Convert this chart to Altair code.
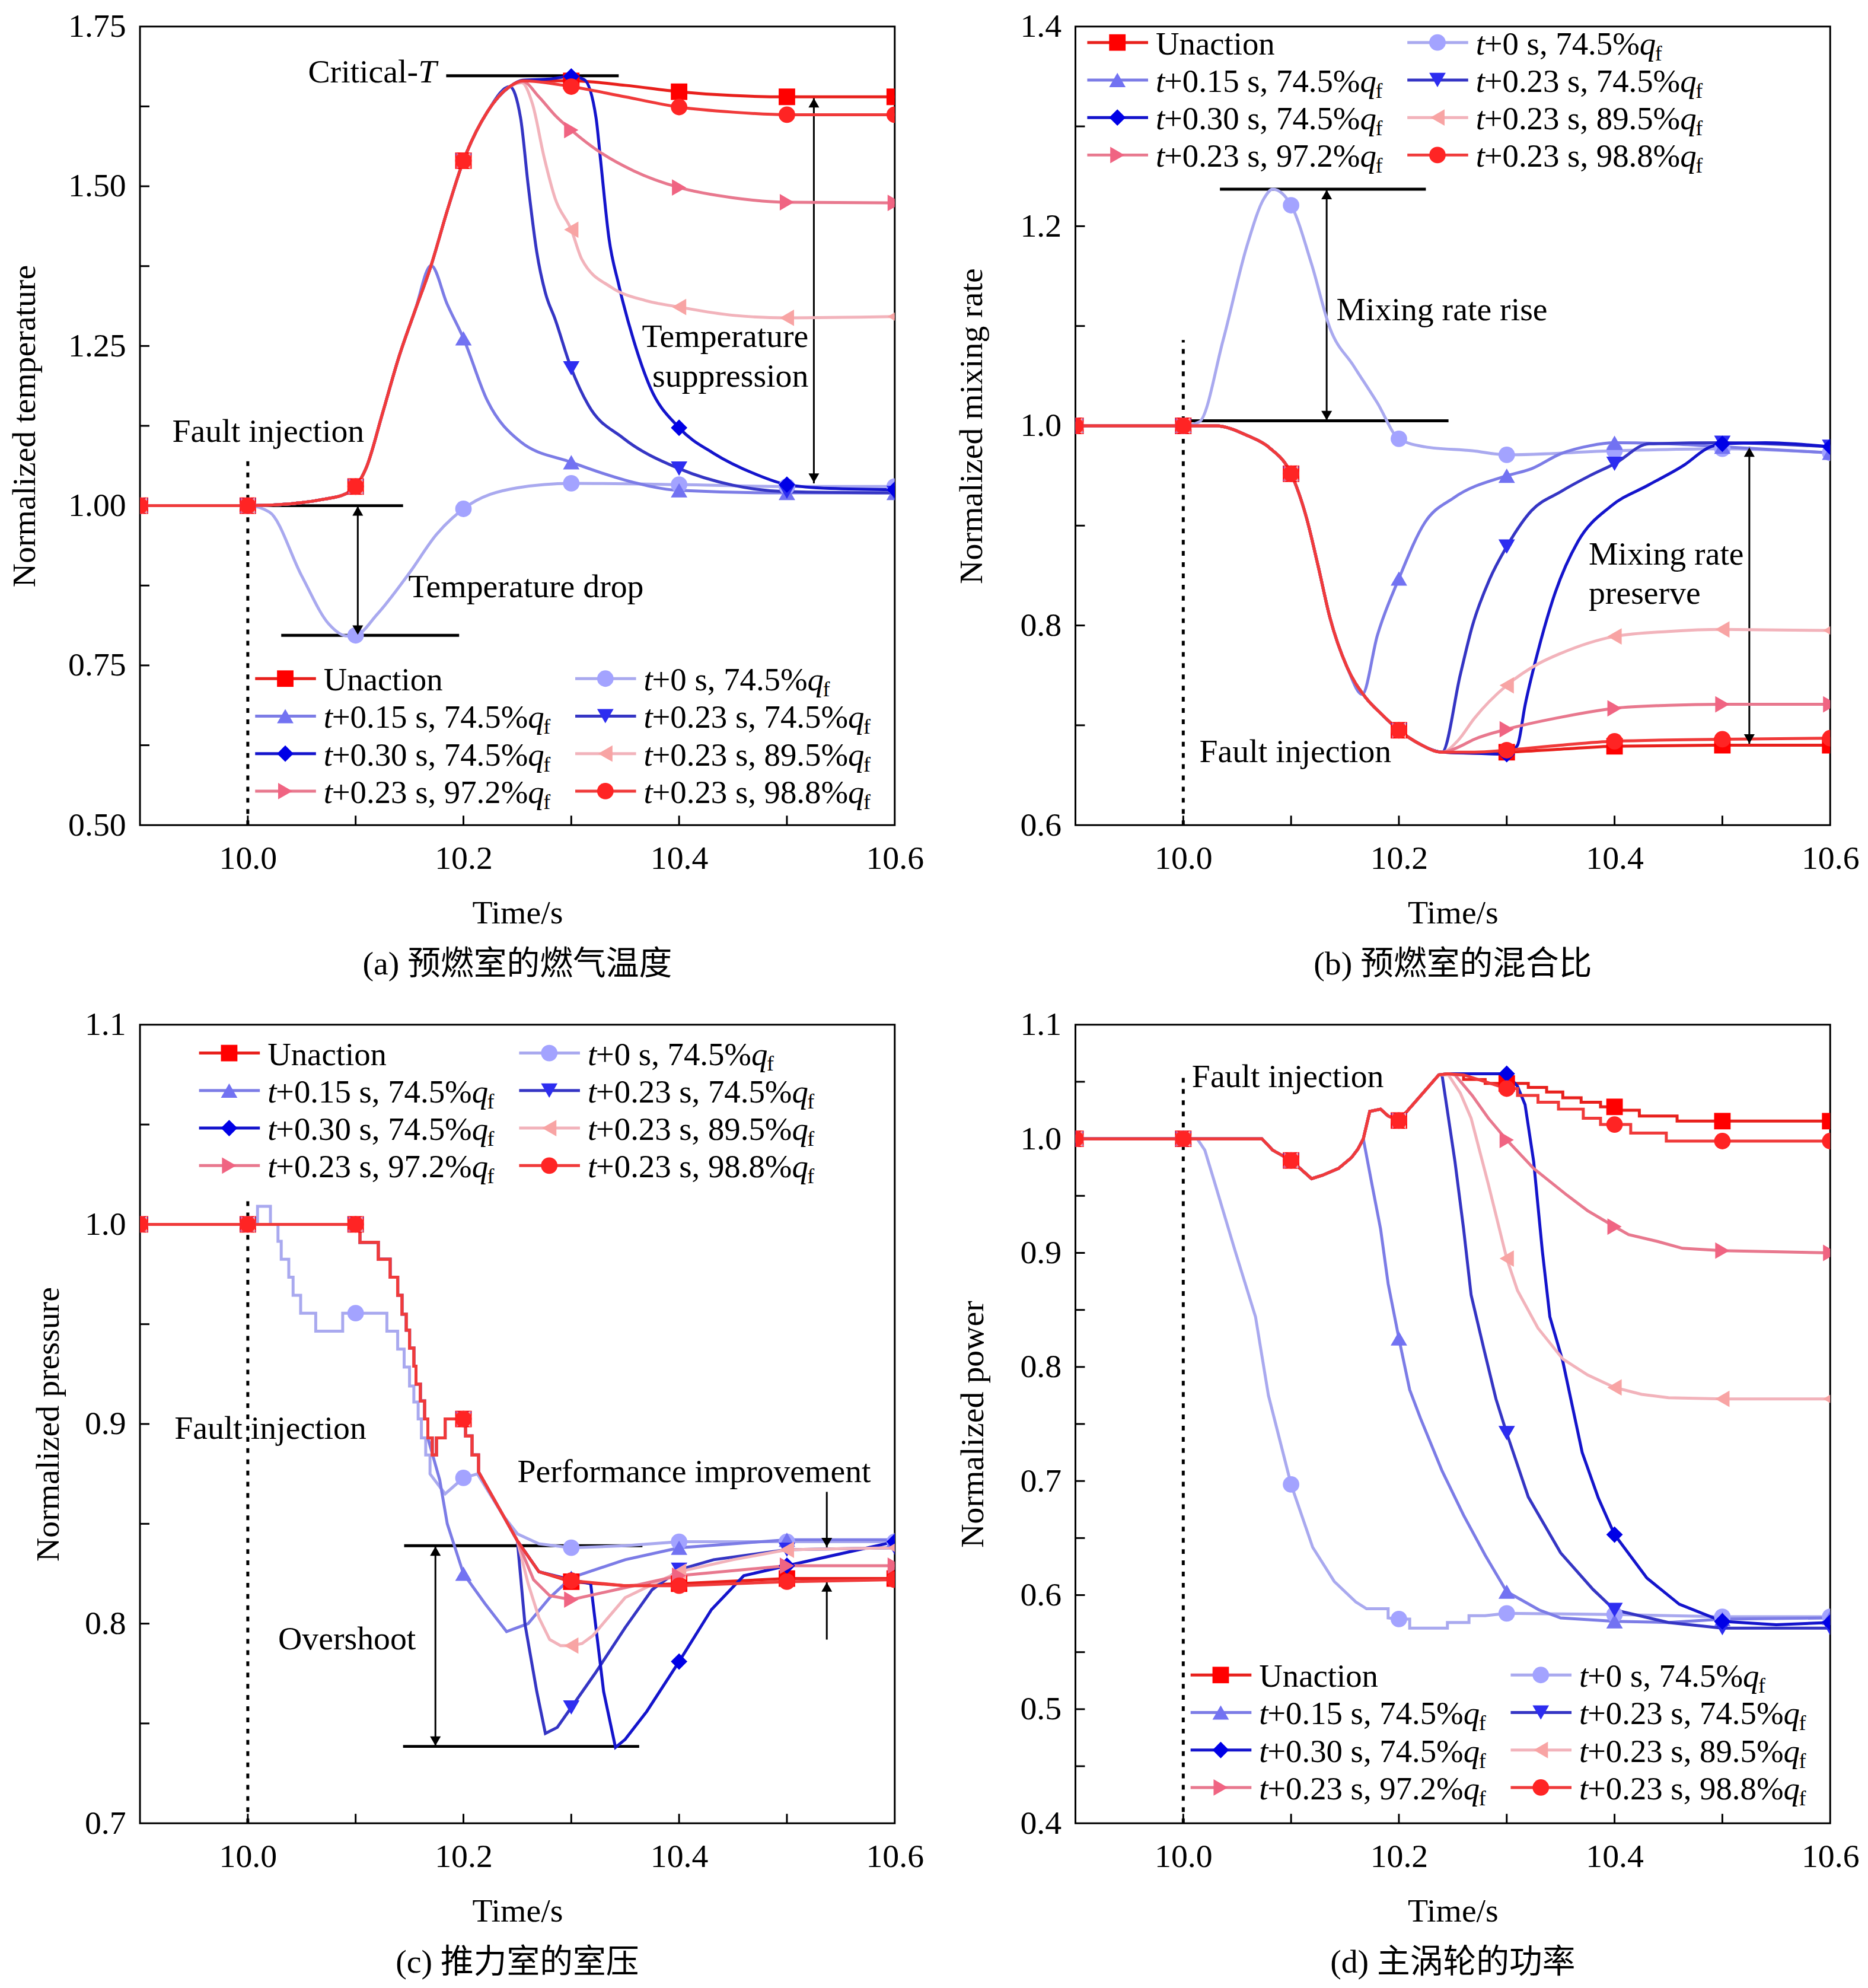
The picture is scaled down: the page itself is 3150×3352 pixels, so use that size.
import altair as alt
import pandas as pd

FONT = "Liberation Serif"
CJK_FONT = "Liberation Serif, Noto Sans CJK SC"
W = 1278
H = 1352

# series in legend order (row by row, two columns)
SERIES = ["unaction", "t0", "t015", "t023", "t030", "q895", "q972", "q988"]
LINE_COLORS = ["#e8201c", "#a9a9ef", "#7c7ce6", "#3535c4", "#1414cc", "#f2b3bb", "#e8788e", "#f03a3a"]
MARK_COLORS = ["#ff0000", "#a3a3ff", "#7272f2", "#2d2df0", "#0000e6", "#f8a4a4", "#f06482", "#ff2424"]
SHAPES = ["square", "circle", "triangle-up", "triangle-down", "diamond",
          "triangle-left", "triangle-right", "circle"]
LEGEND_MID = ["Unaction", "+0 s, 74.5%", "+0.15 s, 74.5%", "+0.23 s, 74.5%", "+0.30 s, 74.5%",
              "+0.23 s, 89.5%", "+0.23 s, 97.2%", "+0.23 s, 98.8%"]

X_LABELS = [10.0, 10.2, 10.4, 10.6]
X_TICKS = [10.0, 10.1, 10.2, 10.3, 10.4, 10.5]


def upto(points, t_end):
    return [p for p in points if p[0] <= t_end + 1e-9]


# ---------------- (a) temperature ----------------
a_rise = [(9.9, 1.0), (10.0, 1.0), (10.04, 1.003), (10.07, 1.01), (10.09, 1.018), (10.1, 1.03),
          (10.11, 1.06), (10.125, 1.145), (10.14, 1.232), (10.155, 1.305), (10.17, 1.376),
          (10.185, 1.462), (10.2, 1.54), (10.222, 1.616), (10.243, 1.656)]
a_unaction = a_rise + [(10.255, 1.665), (10.3, 1.665), (10.35, 1.658), (10.4, 1.648), (10.45, 1.642),
                       (10.5, 1.64), (10.6, 1.64)]
a_t0 = [(9.9, 1.0), (10.0, 1.0), (10.02, 0.99), (10.05, 0.89), (10.075, 0.815), (10.092, 0.796),
        (10.1, 0.797), (10.12, 0.83), (10.15, 0.895), (10.175, 0.955), (10.2, 0.995), (10.25, 1.028),
        (10.3, 1.035), (10.4, 1.033), (10.5, 1.03), (10.6, 1.03)]
a_t015 = upto(a_rise, 10.17) + [(10.185, 1.315), (10.2, 1.262), (10.222, 1.165), (10.253, 1.10),
                                (10.3, 1.068), (10.35, 1.04), (10.4, 1.024), (10.5, 1.02), (10.6, 1.02)]
a_t023 = a_rise + [(10.253, 1.607), (10.26, 1.502), (10.268, 1.397), (10.276, 1.333), (10.285, 1.292),
                   (10.3, 1.215), (10.316, 1.157), (10.348, 1.106), (10.4, 1.058), (10.45, 1.032),
                   (10.5, 1.022), (10.6, 1.02)]
a_t030 = a_rise + [(10.255, 1.666), (10.28, 1.668), (10.3, 1.672), (10.312, 1.667), (10.323, 1.607),
                   (10.327, 1.544), (10.335, 1.418), (10.344, 1.346), (10.358, 1.258), (10.373, 1.186),
                   (10.4, 1.122), (10.432, 1.082), (10.47, 1.05), (10.5, 1.033), (10.54, 1.027), (10.6, 1.025)]
a_q895 = a_rise + [(10.254, 1.662), (10.264, 1.629), (10.275, 1.544), (10.285, 1.481), (10.3, 1.432),
                   (10.31, 1.385), (10.337, 1.342), (10.369, 1.321), (10.4, 1.311), (10.45, 1.298),
                   (10.5, 1.294), (10.6, 1.296)]
a_q972 = a_rise + [(10.255, 1.664), (10.27, 1.64), (10.285, 1.611), (10.3, 1.588), (10.327, 1.553),
                   (10.358, 1.524), (10.4, 1.498), (10.45, 1.482), (10.5, 1.475), (10.6, 1.474)]
a_q988 = a_rise + [(10.255, 1.665), (10.3, 1.656), (10.35, 1.64), (10.4, 1.624), (10.45, 1.616),
                   (10.5, 1.612), (10.6, 1.612)]

# ---------------- (b) mixing rate ----------------
b_fall = [(9.9, 1.0), (10.0, 1.0), (10.03, 1.0), (10.06, 0.99), (10.08, 0.978), (10.1, 0.952),
          (10.114, 0.909), (10.125, 0.86), (10.136, 0.808), (10.152, 0.758), (10.169, 0.728),
          (10.185, 0.71), (10.2, 0.695), (10.218, 0.682), (10.24, 0.673)]
b_unaction = b_fall + [(10.27, 0.672), (10.3, 0.673), (10.35, 0.676), (10.4, 0.679), (10.5, 0.68), (10.6, 0.68)]
b_t0 = [(9.9, 1.0), (10.0, 1.0), (10.015, 1.004), (10.037, 1.086), (10.059, 1.18), (10.075, 1.228),
        (10.083, 1.237), (10.1, 1.221), (10.119, 1.162), (10.136, 1.098), (10.158, 1.06), (10.18, 1.023),
        (10.2, 0.987), (10.224, 0.979), (10.268, 0.975), (10.3, 0.971), (10.4, 0.975), (10.5, 0.977),
        (10.6, 0.973)]
b_t015 = upto(b_fall, 10.152) + [(10.166, 0.731), (10.18, 0.79), (10.2, 0.847), (10.224, 0.903),
                                 (10.251, 0.928), (10.3, 0.95), (10.323, 0.957), (10.35, 0.972),
                                 (10.377, 0.98), (10.4, 0.983), (10.45, 0.982), (10.5, 0.979), (10.6, 0.973)]
b_t023 = b_fall + [(10.257, 0.751), (10.268, 0.799), (10.284, 0.846), (10.3, 0.879), (10.323, 0.915),
                   (10.35, 0.934), (10.377, 0.95), (10.4, 0.962), (10.432, 0.982), (10.5, 0.983), (10.6, 0.979)]
b_t030 = b_fall + [(10.27, 0.672), (10.3, 0.671), (10.31, 0.68), (10.317, 0.72), (10.328, 0.77),
                   (10.345, 0.833), (10.366, 0.884), (10.396, 0.919), (10.432, 0.941), (10.465, 0.961),
                   (10.487, 0.978), (10.5, 0.982), (10.54, 0.983), (10.6, 0.979)]
b_q895 = b_fall + [(10.255, 0.685), (10.27, 0.707), (10.3, 0.74), (10.33, 0.762), (10.35, 0.772),
                   (10.4, 0.789), (10.45, 0.794), (10.5, 0.796), (10.6, 0.795)]
b_q972 = b_fall + [(10.255, 0.678), (10.27, 0.686), (10.3, 0.696), (10.35, 0.708), (10.4, 0.717),
                   (10.45, 0.72), (10.5, 0.721), (10.6, 0.721)]
b_q988 = b_fall + [(10.27, 0.673), (10.3, 0.675), (10.35, 0.68), (10.4, 0.684), (10.5, 0.686), (10.6, 0.687)]

# ---------------- (c) chamber pressure ----------------
c_pre = [(9.9, 1.0), (10.0, 1.0), (10.1, 1.0), (10.104, 1.0), (10.104, 0.991), (10.121, 0.991),
         (10.121, 0.9825), (10.132, 0.9825), (10.132, 0.9735), (10.139, 0.9735), (10.139, 0.9645),
         (10.143, 0.9645), (10.143, 0.955), (10.147, 0.955), (10.147, 0.947), (10.15, 0.947),
         (10.15, 0.938), (10.154, 0.938), (10.154, 0.929), (10.156, 0.929), (10.156, 0.92),
         (10.16, 0.92), (10.16, 0.9115), (10.164, 0.9115), (10.164, 0.9025), (10.167, 0.9025),
         (10.167, 0.893), (10.171, 0.893), (10.171, 0.8845), (10.175, 0.8845), (10.175, 0.893),
         (10.183, 0.893), (10.183, 0.9025), (10.2, 0.9025), (10.202, 0.9025), (10.202, 0.894),
         (10.208, 0.894), (10.208, 0.8845), (10.214, 0.8845), (10.214, 0.876), (10.237, 0.854),
         (10.25, 0.8415)]
c_unaction = c_pre + [(10.27, 0.826), (10.3, 0.821), (10.35, 0.819), (10.4, 0.82), (10.5, 0.8226), (10.6, 0.8226)]
c_t0 = [(9.9, 1.0), (10.0, 1.0), (10.009, 1.0), (10.009, 1.009), (10.021, 1.009), (10.021, 1.0),
        (10.028, 1.0), (10.028, 0.9915), (10.031, 0.9915), (10.031, 0.9825), (10.038, 0.9825),
        (10.038, 0.9735), (10.042, 0.9735), (10.042, 0.9645), (10.049, 0.9645), (10.049, 0.9555),
        (10.063, 0.9555), (10.063, 0.9465), (10.088, 0.9465), (10.088, 0.9555), (10.1, 0.9555),
        (10.129, 0.9555), (10.129, 0.9465), (10.139, 0.9465), (10.139, 0.9375), (10.145, 0.9375),
        (10.145, 0.9285), (10.15, 0.9285), (10.15, 0.919), (10.154, 0.919), (10.154, 0.911),
        (10.158, 0.911), (10.158, 0.9025), (10.161, 0.9025), (10.161, 0.893), (10.165, 0.893),
        (10.165, 0.8845), (10.169, 0.8845), (10.169, 0.875), (10.183, 0.865), (10.2, 0.873),
        (10.213, 0.875), (10.237, 0.854), (10.25, 0.845), (10.27, 0.84), (10.3, 0.838),
        (10.35, 0.839), (10.4, 0.841), (10.5, 0.841), (10.6, 0.841)]
c_t015 = upto(c_pre, 10.167) + [(10.178, 0.872), (10.185, 0.85), (10.2, 0.825), (10.22, 0.81),
                                (10.24, 0.796), (10.26, 0.8), (10.28, 0.813), (10.3, 0.823), (10.35, 0.832),
                                (10.4, 0.838), (10.45, 0.84), (10.5, 0.842), (10.6, 0.842)]
c_t023 = c_pre + [(10.257, 0.8), (10.268, 0.766), (10.276, 0.745), (10.287, 0.748), (10.3, 0.758),
                  (10.322, 0.775), (10.35, 0.798), (10.375, 0.817), (10.4, 0.827), (10.432, 0.832),
                  (10.5, 0.837), (10.6, 0.838)]
c_t030 = c_pre + [(10.27, 0.826), (10.3, 0.822), (10.318, 0.82), (10.33, 0.766), (10.341, 0.738),
                  (10.35, 0.742), (10.37, 0.756), (10.4, 0.781), (10.43, 0.807), (10.46, 0.824),
                  (10.5, 0.829), (10.55, 0.835), (10.6, 0.841)]
c_q895 = c_pre + [(10.26, 0.82), (10.27, 0.803), (10.28, 0.792), (10.29, 0.789), (10.3, 0.789),
                  (10.31, 0.79), (10.32, 0.794), (10.35, 0.813), (10.4, 0.826), (10.45, 0.832),
                  (10.5, 0.837), (10.6, 0.838)]
c_q972 = c_pre + [(10.265, 0.822), (10.28, 0.814), (10.3, 0.812), (10.35, 0.818), (10.4, 0.824),
                  (10.5, 0.829), (10.6, 0.829)]
c_q988 = c_pre + [(10.27, 0.826), (10.3, 0.8215), (10.35, 0.819), (10.4, 0.819), (10.5, 0.821), (10.6, 0.822)]

# ---------------- (d) turbine power ----------------
d_pre = [(9.9, 1.0), (10.0, 1.0), (10.073, 1.0), (10.083, 0.99), (10.1, 0.981), (10.119, 0.965),
         (10.129, 0.968), (10.144, 0.974), (10.156, 0.9835), (10.162, 0.991), (10.167, 1.0),
         (10.173, 1.024), (10.183, 1.026), (10.19, 1.02), (10.2, 1.016), (10.213, 1.03),
         (10.237, 1.056), (10.245, 1.057)]
d_unaction = d_pre + [(10.26, 1.056), (10.26, 1.052), (10.28, 1.052), (10.28, 1.0485), (10.3, 1.0485),
                      (10.32, 1.0485), (10.32, 1.045), (10.337, 1.045), (10.337, 1.041), (10.352, 1.041),
                      (10.352, 1.036), (10.369, 1.036), (10.369, 1.032), (10.387, 1.032), (10.387, 1.028),
                      (10.4, 1.028), (10.406, 1.028), (10.406, 1.025), (10.423, 1.025), (10.423, 1.02),
                      (10.458, 1.02), (10.458, 1.0155), (10.5, 1.0155), (10.6, 1.0155)]
d_t0 = [(9.9, 1.0), (10.0, 1.0), (10.013, 1.0), (10.02, 0.99), (10.029, 0.962), (10.048, 0.902),
        (10.067, 0.844), (10.079, 0.775), (10.1, 0.697), (10.12, 0.642), (10.14, 0.612), (10.16, 0.594),
        (10.17, 0.588), (10.19, 0.588), (10.19, 0.58), (10.2, 0.579), (10.21, 0.579), (10.21, 0.571),
        (10.245, 0.571), (10.245, 0.576), (10.265, 0.576), (10.265, 0.582), (10.28, 0.582),
        (10.3, 0.584), (10.4, 0.583), (10.5, 0.581), (10.6, 0.581)]
d_t015 = upto(d_pre, 10.167) + [(10.175, 0.96), (10.183, 0.921), (10.19, 0.873), (10.2, 0.825),
                                (10.21, 0.78), (10.22, 0.755), (10.24, 0.709), (10.26, 0.67), (10.28, 0.635),
                                (10.3, 0.603), (10.33, 0.587), (10.35, 0.58), (10.4, 0.577), (10.45, 0.576),
                                (10.5, 0.579), (10.6, 0.58)]
d_t023 = upto(d_pre, 10.237) + [(10.24, 1.056), (10.252, 0.98), (10.26, 0.921), (10.267, 0.863),
                                (10.279, 0.815), (10.29, 0.772), (10.3, 0.742), (10.32, 0.686), (10.35, 0.637),
                                (10.38, 0.605), (10.4, 0.587), (10.45, 0.576), (10.5, 0.571), (10.6, 0.571)]
d_t030 = d_pre + [(10.3, 1.057), (10.31, 1.046), (10.317, 1.03), (10.325, 0.98), (10.333, 0.902),
                  (10.34, 0.844), (10.352, 0.805), (10.37, 0.725), (10.385, 0.685), (10.4, 0.653),
                  (10.43, 0.615), (10.46, 0.592), (10.5, 0.577), (10.55, 0.574), (10.6, 0.576)]
d_q895 = upto(d_pre, 10.237) + [(10.246, 1.056), (10.257, 1.04), (10.267, 1.018), (10.283, 0.96),
                                (10.3, 0.895), (10.31, 0.867), (10.329, 0.834), (10.352, 0.807),
                                (10.375, 0.793), (10.4, 0.782), (10.425, 0.776), (10.45, 0.773),
                                (10.5, 0.772), (10.6, 0.772)]
d_q972 = d_pre + [(10.252, 1.056), (10.268, 1.038), (10.283, 1.018), (10.3, 0.999), (10.325, 0.974),
                  (10.356, 0.9505), (10.375, 0.937), (10.4, 0.923), (10.413, 0.916), (10.44, 0.91),
                  (10.463, 0.904), (10.5, 0.902), (10.6, 0.9)]
d_q988 = d_pre + [(10.26, 1.056), (10.28, 1.05), (10.3, 1.044), (10.31, 1.044), (10.31, 1.038),
                  (10.329, 1.038), (10.329, 1.032), (10.348, 1.032), (10.348, 1.026), (10.371, 1.026),
                  (10.371, 1.018), (10.387, 1.018), (10.387, 1.0125), (10.4, 1.0125), (10.415, 1.0125),
                  (10.415, 1.005), (10.448, 1.005), (10.448, 0.998), (10.5, 0.998), (10.6, 0.998)]

# ---------------- annotations (data coordinates) ----------------
A_HLINES = [(10.0, 10.144, 1.0), (10.031, 10.196, 0.797), (10.184, 10.344, 1.673)]
A_VDOT = (10.0, 0.5, 1.07)
A_SHAFTS = [(10.102, 0.797, 1.0), (10.525, 1.035, 1.639)]
A_UP = [(10.102, 1.0), (10.525, 1.639)]
A_DOWN = [(10.102, 0.797), (10.525, 1.035)]
A_TEXT = [("Fault injection", 10.019, 1.116, "center"), ("Temperature drop", 10.258, 0.872, "center"),
          ("Temperature", 10.52, 1.264, "right"), ("suppression", 10.52, 1.202, "right"),
          ("Critical-", 10.158, 1.678, "right")]
A_ITALIC = [("T", 10.158, 1.678, "left")]

B_HLINES = [(10.0, 10.246, 1.005), (10.034, 10.225, 1.237)]
B_VDOT = (10.0, 0.6, 1.086)
B_SHAFTS = [(10.133, 1.005, 1.237), (10.525, 0.681, 0.979)]
B_UP = [(10.133, 1.237), (10.525, 0.979)]
B_DOWN = [(10.133, 1.005), (10.525, 0.681)]
B_TEXT = [("Mixing rate rise", 10.142, 1.116, "left"), ("Mixing rate", 10.376, 0.871, "left"),
          ("preserve", 10.376, 0.832, "left"), ("Fault injection", 10.015, 0.673, "left")]

C_HLINES = [(10.145, 10.366, 0.839), (10.144, 10.363, 0.7385)]
C_VDOT = (10.0, 0.7, 1.013)
C_SHAFTS = [(10.174, 0.7385, 0.839), (10.537, 0.838, 0.866), (10.537, 0.792, 0.821)]
C_UP = [(10.174, 0.839), (10.537, 0.821)]
C_DOWN = [(10.174, 0.7385), (10.537, 0.838)]
C_TEXT = [("Fault injection", 10.021, 0.8975, "center"), ("Overshoot", 10.092, 0.792, "center"),
          ("Performance improvement", 10.414, 0.876, "center")]

D_VDOT = (10.0, 0.4, 1.054)
D_TEXT = [("Fault injection", 10.008, 1.054, "left")]

# Times metrics (per 1000 em) for placing the legend text pieces
GLYPH_W = {" ": 250, "+": 564, ".": 250, ",": 250, "%": 833, "s": 389}


def text_width(s, size):
    return sum(GLYPH_W.get(c, 500) for c in s) * size / 1000.0


color_scale = alt.Scale(domain=SERIES, range=LINE_COLORS)
fill_scale = alt.Scale(domain=SERIES, range=MARK_COLORS)
shape_scale = alt.Scale(domain=SERIES, range=SHAPES)


def series_frame(curves):
    rows = []
    for name, pts in zip(SERIES, curves):
        for i, (t, v) in enumerate(pts):
            rows.append({"series": name, "i": i, "t": t, "v": v})
    return pd.DataFrame(rows)


def panel(curves, interp, ydom, yvals, yfmt, ytitle, ytp, yticks, caption, legend_xy,
          hlines=(), vdot=None, shafts=(), up=(), down=(), texts=(), italics=()):
    xs = alt.Scale(domain=[9.9, 10.6], nice=False, zero=False)
    ys = alt.Scale(domain=ydom, nice=False, zero=False)
    xa = alt.Axis(values=X_LABELS, format=".1f", title="Time/s", labelPadding=30, titlePadding=37)
    ya = alt.Axis(values=yvals, format=yfmt, title=ytitle, labelPadding=24, titlePadding=ytp)
    X = lambda f: alt.X(f, scale=xs, axis=xa)
    Y = lambda f: alt.Y(f, scale=ys, axis=ya)

    layers = []
    layers.append(alt.Chart(pd.DataFrame({"t": X_TICKS})).mark_rule(color="black", strokeWidth=3).encode(
        x=X("t:Q"), y=alt.value(H), y2=alt.value(H - 16)))
    layers.append(alt.Chart(pd.DataFrame({"v": yticks})).mark_rule(color="black", strokeWidth=3).encode(
        y=Y("v:Q"), x=alt.value(0), x2=alt.value(16)))
    if hlines:
        hl = pd.DataFrame(hlines, columns=["t", "t2", "v"])
        layers.append(alt.Chart(hl).mark_rule(color="black", strokeWidth=5).encode(
            x=X("t:Q"), x2="t2:Q", y=Y("v:Q")))
    if vdot:
        vd = pd.DataFrame([vdot], columns=["t", "v", "v2"])
        layers.append(alt.Chart(vd).mark_rule(color="black", strokeWidth=5, strokeDash=[8, 11]).encode(
            x=X("t:Q"), y=Y("v:Q"), y2="v2:Q"))
    if shafts:
        sh = pd.DataFrame(shafts, columns=["t", "v", "v2"])
        layers.append(alt.Chart(sh).mark_rule(color="black", strokeWidth=3).encode(
            x=X("t:Q"), y=Y("v:Q"), y2="v2:Q"))

    df = series_frame(curves)
    layers.append(alt.Chart(df).mark_line(strokeWidth=5, interpolate=interp, clip=True).encode(
        x=X("t:Q"), y=Y("v:Q"),
        color=alt.Color("series:N", scale=color_scale, legend=None),
        order="i:Q"))
    grid = ((df["t"] * 10).round() - df["t"] * 10).abs() < 1e-6
    mk = df[grid].drop_duplicates(["series", "t"])
    layers.append(alt.Chart(mk).mark_point(filled=True, size=780, opacity=1, strokeWidth=0, clip=True).encode(
        x=X("t:Q"), y=Y("v:Q"),
        shape=alt.Shape("series:N", scale=shape_scale, legend=None),
        fill=alt.Fill("series:N", scale=fill_scale, legend=None)))

    if up:
        layers.append(alt.Chart(pd.DataFrame(up, columns=["t", "v"])).mark_point(
            shape="triangle-up", filled=True, size=330, color="black", opacity=1, yOffset=9).encode(
            x=X("t:Q"), y=Y("v:Q")))
    if down:
        layers.append(alt.Chart(pd.DataFrame(down, columns=["t", "v"])).mark_point(
            shape="triangle-down", filled=True, size=330, color="black", opacity=1, yOffset=-9).encode(
            x=X("t:Q"), y=Y("v:Q")))

    for items, style in ((texts, "normal"), (italics, "italic")):
        for align in ("left", "center", "right"):
            sel = [r for r in items if r[3] == align]
            if not sel:
                continue
            tdf = pd.DataFrame(sel, columns=["label", "t", "v", "align"])
            layers.append(alt.Chart(tdf).mark_text(
                font=FONT, fontSize=56, fontStyle=style, align=align, baseline="middle", color="black").encode(
                x=X("t:Q"), y=Y("v:Q"), text="label:N"))

    # legend drawn inside the plot, two columns
    ox, oy = legend_xy
    fs = 55
    lrows, pieces = [], []
    for k, name in enumerate(SERIES):
        lx = ox + (k % 2) * 542
        ly = oy + (k // 2) * 63.5
        lrows.append({"series": name, "lx": lx, "lx2": lx + 103, "lxm": lx + 51, "ly": ly})
        tx = lx + 116
        ty = ly + 3
        if k == 0:
            pieces.append({"kind": "reg", "px": tx, "py": ty, "label": LEGEND_MID[k]})
        else:
            mid_x = tx + 14
            q_x = mid_x + text_width(LEGEND_MID[k], fs)
            pieces.append({"kind": "ital", "px": tx, "py": ty, "label": "t"})
            pieces.append({"kind": "reg", "px": mid_x, "py": ty, "label": LEGEND_MID[k]})
            pieces.append({"kind": "ital", "px": q_x, "py": ty, "label": "q"})
            pieces.append({"kind": "sub", "px": q_x + 26, "py": ty + 16, "label": "f"})
    ldf = pd.DataFrame(lrows)
    pdf = pd.DataFrame(pieces)
    PX = lambda f: alt.X(f, scale=None, axis=None)
    PY = lambda f: alt.Y(f, scale=None, axis=None)
    layers.append(alt.Chart(ldf).mark_rule(strokeWidth=5).encode(
        x=PX("lx:Q"), x2="lx2:Q", y=PY("ly:Q"),
        color=alt.Color("series:N", scale=color_scale, legend=None)))
    layers.append(alt.Chart(ldf).mark_point(filled=True, size=780, opacity=1, strokeWidth=0).encode(
        x=PX("lxm:Q"), y=PY("ly:Q"),
        shape=alt.Shape("series:N", scale=shape_scale, legend=None),
        fill=alt.Fill("series:N", scale=fill_scale, legend=None)))
    for kind, size, style in (("reg", fs, "normal"), ("ital", fs, "italic"), ("sub", 36, "normal")):
        sub = pdf[pdf["kind"] == kind]
        layers.append(alt.Chart(sub).mark_text(
            font=FONT, fontSize=size, fontStyle=style, align="left", baseline="middle", color="black").encode(
            x=PX("px:Q"), y=PY("py:Q"), text="label:N"))

    return alt.layer(*layers).properties(
        width=W, height=H,
        title=alt.TitleParams(caption, orient="bottom", anchor="middle", font=CJK_FONT, fontSize=56,
                              fontWeight="normal", color="black", offset=32))


pa = panel([a_unaction, a_t0, a_t015, a_t023, a_t030, a_q895, a_q972, a_q988], "monotone",
           [0.5, 1.75], [0.5, 0.75, 1.0, 1.25, 1.5, 1.75], ".2f", "Normalized temperature", 44,
           [0.625, 0.75, 0.875, 1.0, 1.125, 1.25, 1.375, 1.5, 1.625],
           "(a) 预燃室的燃气温度", (195, 1104),
           A_HLINES, A_VDOT, A_SHAFTS, A_UP, A_DOWN, A_TEXT, A_ITALIC)
pb = panel([b_unaction, b_t0, b_t015, b_t023, b_t030, b_q895, b_q972, b_q988], "monotone",
           [0.6, 1.4], [0.6, 0.8, 1.0, 1.2, 1.4], ".1f", "Normalized mixing rate", 53,
           [0.7, 0.8, 0.9, 1.0, 1.1, 1.2, 1.3],
           "(b) 预燃室的混合比", (20, 27),
           B_HLINES, B_VDOT, B_SHAFTS, B_UP, B_DOWN, B_TEXT)
pc = panel([c_unaction, c_t0, c_t015, c_t023, c_t030, c_q895, c_q972, c_q988], "linear",
           [0.7, 1.1], [0.7, 0.8, 0.9, 1.0, 1.1], ".1f", "Normalized pressure", 32,
           [0.75, 0.8, 0.85, 0.9, 0.95, 1.0, 1.05],
           "(c) 推力室的室压", (100, 48),
           C_HLINES, C_VDOT, C_SHAFTS, C_UP, C_DOWN, C_TEXT)
pd_ = panel([d_unaction, d_t0, d_t015, d_t023, d_t030, d_q895, d_q972, d_q988], "linear",
            [0.4, 1.1], [0.4, 0.5, 0.6, 0.7, 0.8, 0.9, 1.0, 1.1], ".1f", "Normalized power", 51,
            [0.45, 0.5, 0.55, 0.6, 0.65, 0.7, 0.75, 0.8, 0.85, 0.9, 0.95, 1.0, 1.05],
            "(d) 主涡轮的功率", (195, 1101),
            (), D_VDOT, (), (), (), D_TEXT)

chart = alt.concat(pa, pb, pc, pd_, columns=2, spacing={"row": 338, "column": 306}, bounds="flush").properties(
    padding={"left": 4, "top": 0, "right": 5, "bottom": 5}, background="white"
).configure_view(
    stroke="black", strokeWidth=3
).configure_axis(
    labelFont=FONT, titleFont=FONT, labelFontSize=56, titleFontSize=56, titleFontWeight="normal",
    labelColor="black", titleColor="black", grid=False, ticks=False, domain=False,
    labelFlush=False, labelOverlap=False
)

chart.save("out.html", embed_options={"renderer": "svg", "actions": False})
